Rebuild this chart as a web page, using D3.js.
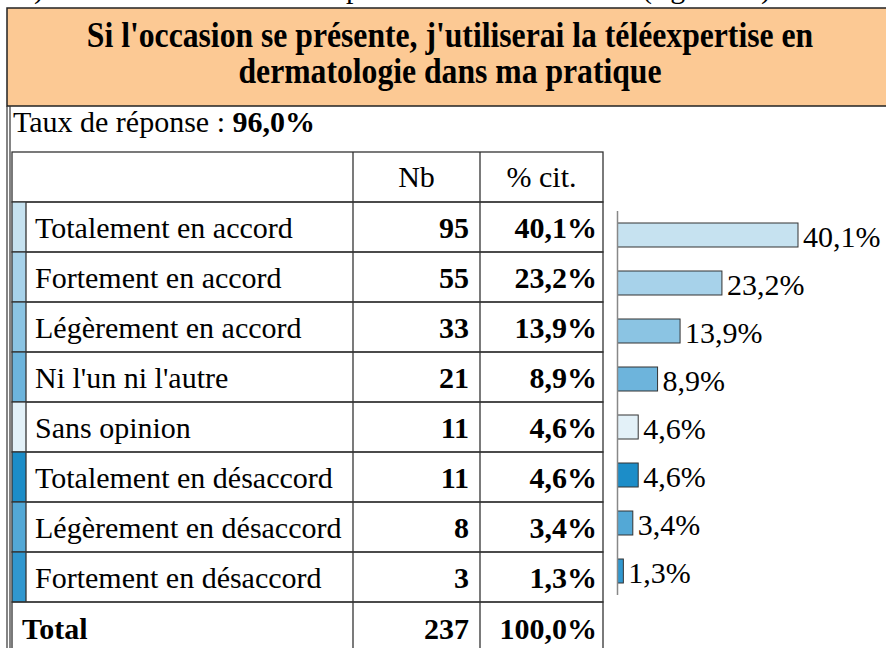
<!DOCTYPE html>
<html>
<head>
<meta charset="utf-8">
<script src="https://cdn.jsdelivr.net/npm/d3@7"></script>
<style>
  body { margin: 0; background: #fff; }
  svg { display: block; font-family: "Liberation Serif", "Times New Roman", serif; }
</style>
</head>
<body>
<svg id="chart"></svg>
<script>
var categories = ["Totalement en accord", "Fortement en accord", "Légèrement en accord",
  "Ni l'un ni l'autre", "Sans opinion", "Totalement en désaccord",
  "Légèrement en désaccord", "Fortement en désaccord"];
var counts = [95, 55, 33, 21, 11, 11, 8, 3];
var percents = [40.1, 23.2, 13.9, 8.9, 4.6, 4.6, 3.4, 1.3];
var colors = ["#c6e2f0", "#a7d2ea", "#8bc4e3", "#6db4dc", "#e3f1f8", "#1c8dc8", "#53a8d6", "#3097cf"];
var titleLines = ["Si l'occasion se présente, j'utiliserai la téléexpertise en", "dermatologie dans ma pratique"];
var responseRate = 96.0;
var total = 237;
var totalPct = 100.0;

var W = 886, H = 648;
var fmt = function(v) { return d3.format(".1f")(v).replace(".", ",") + "%"; };

var data = categories.map(function(c, i) {
  return { cat: c, nb: counts[i], pct: percents[i], color: colors[i] };
});

var svg = d3.select("#chart").attr("width", W).attr("height", H);

// bits of the previous line, cut at the top of the picture
var prev = svg.append("g").attr("font-size", 30).attr("fill", "#000");
prev.append("text").attr("x", 34).attr("y", -2).text(")");
prev.append("text").attr("x", 346).attr("y", -2).text("p");
prev.append("text").attr("x", 642).attr("y", -2).text("(figure 12)");

// header box
svg.append("rect")
  .attr("x", 7).attr("y", 8).attr("width", W + 10).attr("height", 98)
  .attr("fill", "#fcc994").attr("stroke", "#222").attr("stroke-width", 1.5);

svg.append("g").selectAll("text").data(titleLines).enter().append("text")
  .attr("transform", function(d, i) { return "translate(450," + (47 + i * 36) + ") scale(0.88,1)"; })
  .attr("text-anchor", "middle")
  .attr("font-size", 36)
  .attr("font-weight", "bold")
  .text(function(d) { return d; });

// left double frame
[7, 10].forEach(function(x) {
  svg.append("line").attr("x1", x).attr("x2", x).attr("y1", 106).attr("y2", H)
    .attr("stroke", "#333").attr("stroke-width", 1.2);
});

var rate = svg.append("text").attr("x", 13).attr("y", 132).attr("font-size", 30);
rate.append("tspan").text("Taux de réponse : ");
rate.append("tspan").attr("font-weight", "bold").text(fmt(responseRate));

// table
var xL = 12, xS = 26, x1 = 353, x2 = 480, x3 = 603;
var headTop = 152, rowH = 50;

var y = d3.scaleBand()
  .domain(categories)
  .range([headTop + rowH, headTop + rowH * (categories.length + 1)]);

var table = svg.append("g").attr("font-size", 30);

// header
table.append("rect").attr("x", xL).attr("y", headTop).attr("width", x3 - xL).attr("height", rowH)
  .attr("fill", "#fff").attr("stroke", "#333").attr("stroke-width", 1.3);
table.append("text").attr("x", (x1 + x2) / 2).attr("y", headTop + 35).attr("text-anchor", "middle").text("Nb");
table.append("text").attr("x", (x2 + x3) / 2).attr("y", headTop + 35).attr("text-anchor", "middle").text("% cit.");
[x1, x2].forEach(function(x) {
  table.append("line").attr("x1", x).attr("x2", x).attr("y1", headTop).attr("y2", headTop + rowH)
    .attr("stroke", "#333").attr("stroke-width", 1.3);
});

var rows = table.selectAll("g.row").data(data).enter().append("g")
  .attr("class", "row")
  .attr("transform", function(d) { return "translate(0," + y(d.cat) + ")"; });

rows.append("rect").attr("x", xL).attr("width", xS - xL).attr("height", y.bandwidth())
  .attr("fill", function(d) { return d.color; });
rows.append("rect").attr("x", xL).attr("width", x3 - xL).attr("height", y.bandwidth())
  .attr("fill", "none").attr("stroke", "#333").attr("stroke-width", 1.3);
[xS, x1, x2].forEach(function(x) {
  rows.append("line").attr("x1", x).attr("x2", x).attr("y1", 0).attr("y2", y.bandwidth())
    .attr("stroke", "#333").attr("stroke-width", 1.3);
});
rows.append("text").attr("x", 35).attr("y", 36).text(function(d) { return d.cat; });
rows.append("text").attr("x", 469).attr("y", 36).attr("text-anchor", "end").attr("font-weight", "bold")
  .text(function(d) { return d.nb; });
rows.append("text").attr("x", 597).attr("y", 36).attr("text-anchor", "end").attr("font-weight", "bold")
  .text(function(d) { return fmt(d.pct); });

// total row
var ty = headTop + rowH * (categories.length + 1);
var tot = table.append("g").attr("transform", "translate(0," + ty + ")").attr("font-weight", "bold");
tot.append("rect").attr("x", xL).attr("width", x3 - xL).attr("height", rowH)
  .attr("fill", "none").attr("stroke", "#333").attr("stroke-width", 1.3);
[x1, x2].forEach(function(x) {
  tot.append("line").attr("x1", x).attr("x2", x).attr("y1", 0).attr("y2", rowH)
    .attr("stroke", "#333").attr("stroke-width", 1.3);
});
tot.append("text").attr("x", 22).attr("y", 37).text("Total");
tot.append("text").attr("x", 469).attr("y", 37).attr("text-anchor", "end").text(total);
tot.append("text").attr("x", 597).attr("y", 37).attr("text-anchor", "end").text(fmt(totalPct));

// bar chart
var bx = d3.scaleLinear().domain([0, 40.1]).range([617.5, 798]);
var by = d3.scaleBand().domain(categories).range([211, 595]).paddingInner(0.5).paddingOuter(0.25);

var bars = svg.append("g");
bars.selectAll("rect").data(data).enter().append("rect")
  .attr("x", bx(0))
  .attr("y", function(d) { return by(d.cat); })
  .attr("width", function(d) { return bx(d.pct) - bx(0); })
  .attr("height", by.bandwidth())
  .attr("fill", function(d) { return d.color; })
  .attr("stroke", "#333").attr("stroke-width", 1);

bars.append("line").attr("x1", bx(0)).attr("x2", bx(0)).attr("y1", 211).attr("y2", 595)
  .attr("stroke", "#888").attr("stroke-width", 1.5);

bars.selectAll("text").data(data).enter().append("text")
  .attr("x", function(d) { return bx(d.pct) + 5; })
  .attr("y", function(d) { return by(d.cat) + by.bandwidth() / 2 + 11.5; })
  .attr("font-size", 30)
  .text(function(d) { return fmt(d.pct); });
</script>
</body>
</html>
